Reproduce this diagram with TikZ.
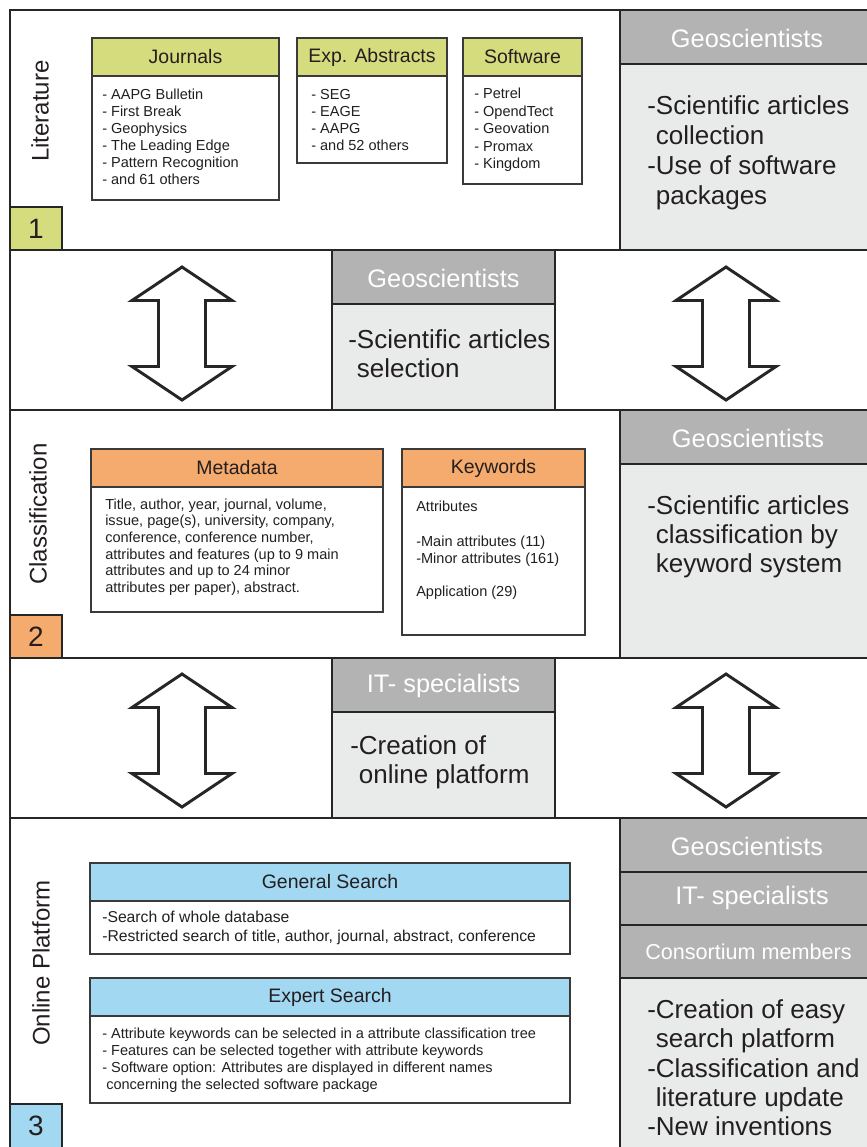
\documentclass[tikz,border=0pt]{standalone}
\usepackage{fontspec}
\setmainfont{Liberation Sans}
\definecolor{linec}{HTML}{262626}
\definecolor{boxline}{HTML}{3A3A3A}
\definecolor{textc}{HTML}{231F20}
\definecolor{litgreen}{HTML}{D4DC7D}
\definecolor{clsorange}{HTML}{F4AB6D}
\definecolor{onlblue}{HTML}{A3D8F3}
\definecolor{hdrgray}{HTML}{B3B3B3}
\definecolor{bodygray}{HTML}{E9EAEA}
\begin{document}
\begin{tikzpicture}[x=0.75pt,y=-0.75pt,
  panel/.style={draw=linec,line width=2.2pt,fill=white},
  roleh/.style={draw=linec,line width=2.2pt,fill=hdrgray},
  roleb/.style={draw=linec,line width=2.2pt,fill=bodygray},
  hbox/.style={draw=boxline,line width=1.3pt},
  roletxt/.style={text=white,font=\fontsize{19}{22}\selectfont,inner sep=0pt},
  bigtxt/.style={text=textc,align=left,anchor=west,inner sep=0pt},
  headtxt/.style={text=textc,font=\fontsize{14.6}{17}\selectfont,inner sep=0pt},
  listtxt/.style={text=textc,align=left,anchor=west,inner sep=0pt},
  sidetxt/.style={text=textc,font=\fontsize{18}{20}\selectfont,rotate=90,inner sep=0pt},
  numtxt/.style={text=textc,font=\fontsize{21}{24}\selectfont,inner sep=0pt},
  arrowline/.style={draw=linec,line width=2.2pt,fill=white,line join=miter},
  dblarrow/.pic={\path[arrowline] (0,-66.5) -- (50,-33) -- (23.5,-33) -- (23.5,33) -- (50,33) -- (0,66.5) -- (-50,33) -- (-23.5,33) -- (-23.5,-33) -- (-50,-33) -- cycle;}
]
\useasboundingbox (0,0) rectangle (867,1147);
\clip (0,0) rectangle (867,1147);
\fill[white] (0,0) rectangle (867,1147);

% ---------- Row 1: Literature ----------
\draw[panel] (10,10) rectangle (620,250);
\draw[roleh] (620,10) rectangle (880,64);
\draw[roleb] (620,64) rectangle (880,250);
\draw[panel,fill=litgreen] (10,207) rectangle (62,250);
\node[numtxt] (n1) at (36,229) {1};
\node[sidetxt] (litlab) at (40,111) {Literature};

\draw[hbox,fill=litgreen] (92,38) rectangle (279,76);
\draw[hbox,fill=white] (92,76) rectangle (279,200);
\node[headtxt] (jh) at (185.5,57) {Journals};
\node[listtxt,font=\fontsize{10.9}{12.75}\selectfont] (jl) at (102,136.5) {- AAPG Bulletin\\- First Break\\- Geophysics\\- The Leading Edge\\- Pattern Recognition\\- and 61 others};

\draw[hbox,fill=litgreen] (297,38) rectangle (447,76);
\draw[hbox,fill=white] (297,76) rectangle (447,163);
\node[headtxt] (eh) at (372,57) {Exp. Abstracts};
\node[listtxt,font=\fontsize{10.9}{12.75}\selectfont] (el) at (311,120) {- SEG\\- EAGE\\- AAPG\\- and 52 others};

\draw[hbox,fill=litgreen] (463,38) rectangle (582,76);
\draw[hbox,fill=white] (463,76) rectangle (582,184);
\node[headtxt] (sh) at (522.5,57) {Software};
\node[listtxt,font=\fontsize{10.9}{13.2}\selectfont] (sl) at (474,130) {- Petrel\\- OpendTect\\- Geovation\\- Promax\\- Kingdom};

\node[roletxt] (g1) at (747,38) {Geoscientists};
\node[bigtxt,font=\fontsize{19.5}{22.5}\selectfont] (t1) at (647,152.5) {-Scientific articles\\\hphantom{-}collection\\-Use of software\\\hphantom{-}packages};

% ---------- Row 2 ----------
\draw[panel] (10,250) rectangle (332,410);
\draw[roleh] (332,250) rectangle (555,304);
\draw[roleb] (332,304) rectangle (555,410);
\draw[panel] (555,250) rectangle (880,410);
\node[roletxt] (g2) at (443.5,278) {Geoscientists};
\node[bigtxt,font=\fontsize{19.5}{21.5}\selectfont] (t2) at (348,354) {-Scientific articles\\\hphantom{-}selection};
\pic at (182,333.5) {dblarrow};
\pic at (726,333.5) {dblarrow};

% ---------- Row 3: Classification ----------
\draw[panel] (10,410) rectangle (620,658);
\draw[roleh] (620,410) rectangle (880,464);
\draw[roleb] (620,464) rectangle (880,658);
\draw[panel,fill=clsorange] (10,615) rectangle (62,658);
\node[numtxt] (n2) at (36,637) {2};
\node[sidetxt] (clslab) at (38,514) {Classification};

\draw[hbox,fill=clsorange] (91,449) rectangle (383,487);
\draw[hbox,fill=white] (91,487) rectangle (383,612);
\node[headtxt] (mh) at (237,468) {Metadata};
\node[listtxt,font=\fontsize{10.9}{12.5}\selectfont] (ml) at (105,547) {Title, author, year, journal, volume,\\issue, page(s), university, company,\\conference, conference number,\\attributes and features (up to 9 main\\attributes and up to 24 minor\\attributes per paper), abstract.};

\draw[hbox,fill=clsorange] (402,449) rectangle (585,487);
\draw[hbox,fill=white] (402,487) rectangle (585,635);
\node[headtxt] (kh) at (493.5,468) {Keywords};
\node[listtxt,font=\fontsize{10.9}{12.5}\selectfont] (ka) at (416,506) {Attributes};
\node[listtxt,font=\fontsize{10.9}{12.5}\selectfont] (km) at (416,551.5) {-Main attributes (11)\\-Minor attributes (161)};
\node[listtxt,font=\fontsize{10.9}{12.5}\selectfont] (kp) at (416,593) {Application (29)};

\node[roletxt] (g3) at (748,438) {Geoscientists};
\node[bigtxt,font=\fontsize{19.5}{21.75}\selectfont] (t3) at (647,537) {-Scientific articles\\\hphantom{-}classification by\\\hphantom{-}keyword system};

% ---------- Row 4 ----------
\draw[panel] (10,658) rectangle (332,818);
\draw[roleh] (332,658) rectangle (555,712);
\draw[roleb] (332,712) rectangle (555,818);
\draw[panel] (555,658) rectangle (880,818);
\node[roletxt] (it4) at (443.5,686) {IT- specialists};
\node[bigtxt,font=\fontsize{19.5}{21.75}\selectfont] (t4) at (350,762) {-Creation of\\\hphantom{-}online platform};
\pic at (182,740.5) {dblarrow};
\pic at (726,740.5) {dblarrow};

% ---------- Row 5: Online Platform ----------
\draw[panel] (10,818) rectangle (620,1160);
\draw[roleh] (620,818) rectangle (880,872);
\draw[roleh] (620,872) rectangle (880,925);
\draw[roleh] (620,925) rectangle (880,978);
\draw[roleb] (620,978) rectangle (880,1160);
\draw[panel,fill=onlblue] (10,1104) rectangle (62,1160);
\node[numtxt] (n3) at (36,1126) {3};
\node[sidetxt] (onlab) at (41,963) {Online Platform};

\draw[hbox,fill=onlblue] (90,863) rectangle (570,901);
\draw[hbox,fill=white] (90,901) rectangle (570,954);
\node[headtxt] (gsh) at (330,882) {General Search};
\node[listtxt,font=\fontsize{11.8}{14.25}\selectfont] (gsl) at (102,927.5) {-Search of whole database\\-Restricted search of title, author, journal, abstract, conference};

\draw[hbox,fill=onlblue] (90,978) rectangle (570,1016);
\draw[hbox,fill=white] (90,1016) rectangle (570,1103);
\node[headtxt] (esh) at (330,997) {Expert Search};
\node[listtxt,font=\fontsize{10.9}{12.75}\selectfont] (esl) at (102,1060) {- Attribute keywords can be selected in a attribute classification tree\\- Features can be selected together with attribute keywords\\- Software option: Attributes are displayed in different names\\\hspace{3pt}concerning the selected software package};

\node[roletxt] (g5) at (747,846) {Geoscientists};
\node[roletxt] (it5) at (752,898) {IT- specialists};
\node[roletxt,font=\fontsize{16.2}{19}\selectfont] (cm5) at (748.5,952) {Consortium members};
\node[bigtxt,font=\fontsize{19.5}{22}\selectfont] (t5) at (647,1068) {-Creation of easy\\\hphantom{-}search platform\\-Classification and\\\hphantom{-}literature update\\-New inventions};
\end{tikzpicture}
\end{document}
